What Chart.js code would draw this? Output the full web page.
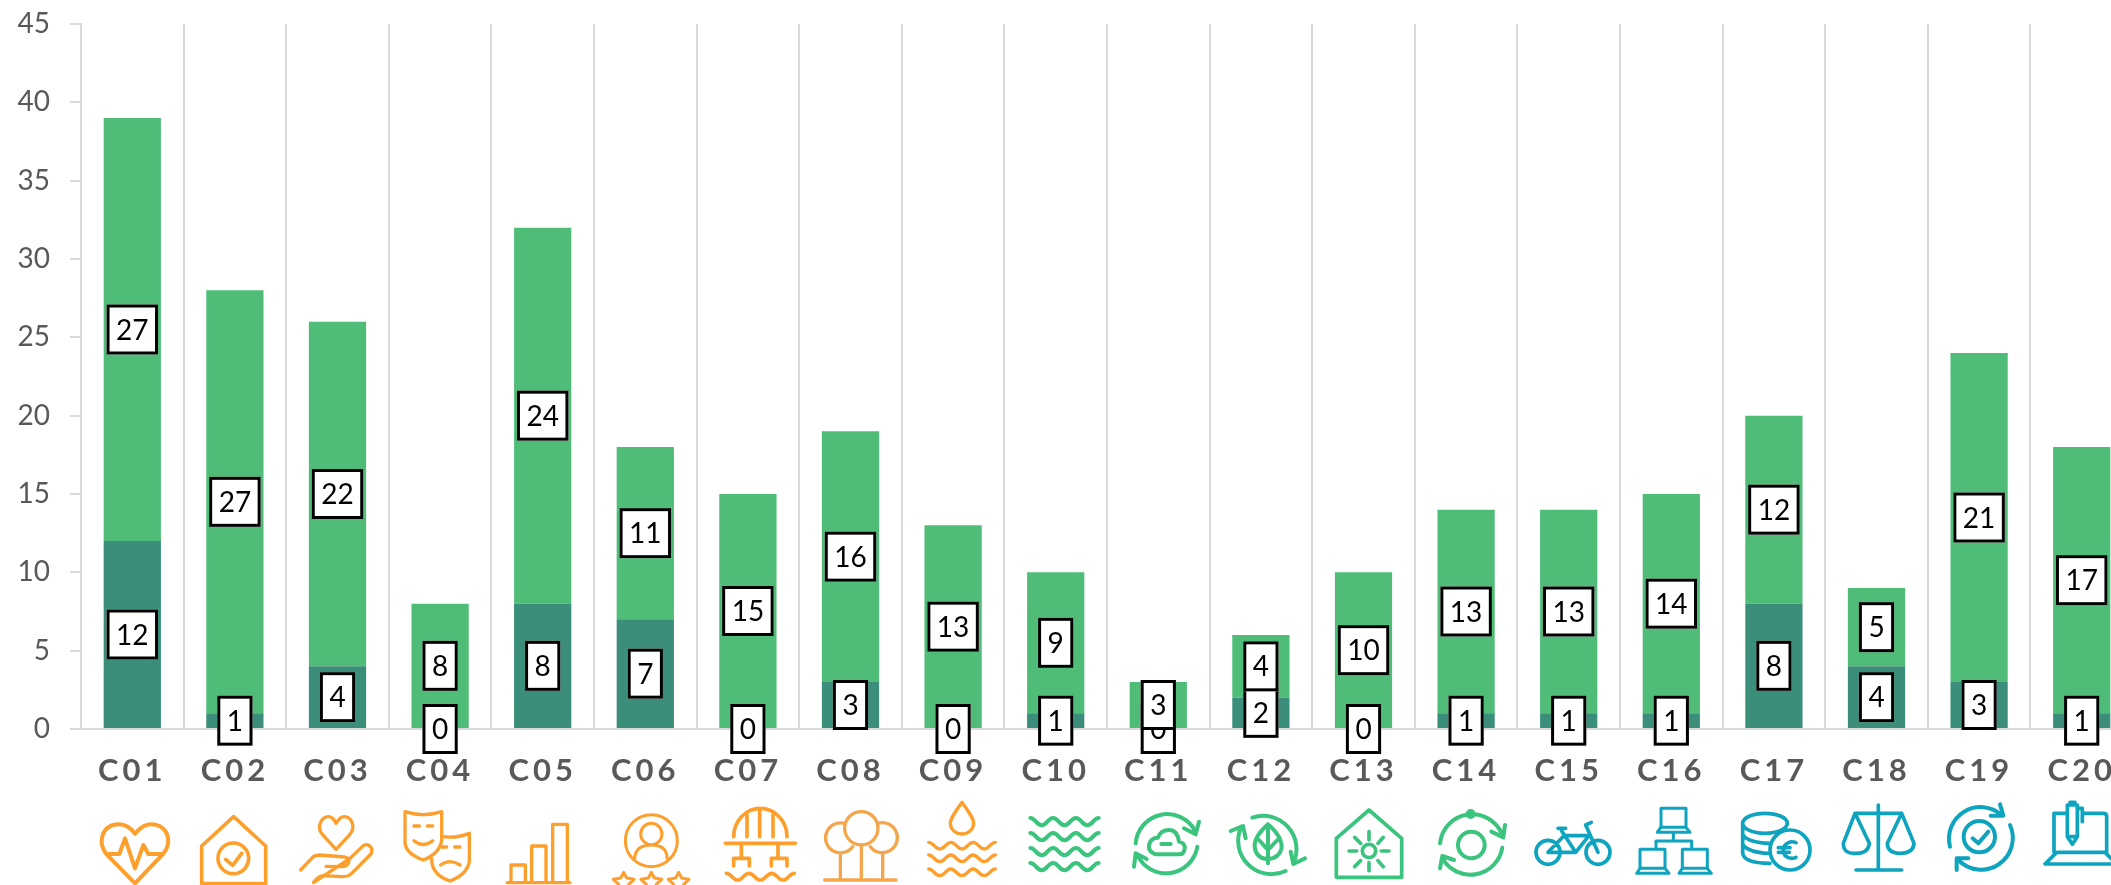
<!DOCTYPE html>
<html><head><meta charset="utf-8">
<style>html,body{margin:0;padding:0;background:#fff;overflow:hidden;width:2111px;height:885px}canvas{display:block}</style>
<script src="https://cdn.jsdelivr.net/npm/chart.js@4/dist/chart.umd.js"></script>
</head><body><canvas id="c" width="2134" height="885"></canvas>
<script>
const categories=['C01','C02','C03','C04','C05','C06','C07','C08','C09','C10','C11','C12','C13','C14','C15','C16','C17','C18','C19','C20'];
const darkValues=[12,1,4,0,8,7,0,3,0,1,0,2,0,1,1,1,8,4,3,1];
const lightValues=[27,27,22,8,24,11,15,16,13,9,3,4,10,13,13,14,12,5,21,17];
const yTicks=[0,5,10,15,20,25,30,35,40,45];

const ORANGE='#FD9F2C',TREE='#F3A64C',GREEN='#3AC47D',TEAL='#0EA3BE';
function wave(x0,y,x1,periods,a){
  const p=(x1-x0)/periods;let s=`M${x0} ${y-a}`;
  for(let i=0;i<periods;i++){const x=x0+i*p;
    s+=` C${x+p*.22} ${y-a} ${x+p*.28} ${y+a} ${x+p*.5} ${y+a} C${x+p*.72} ${y+a} ${x+p*.78} ${y-a} ${x+p} ${y-a}`;}
  return s;
}
function circ(x,y,r){return `M${x-r} ${y} A${r} ${r} 0 1 0 ${x+r} ${y} A${r} ${r} 0 1 0 ${x-r} ${y} Z`;}
function star(c,y){return `M${c} ${y} L${c+9} ${y+17} L${c+31} ${y+21} L${c+15} ${y+36} L${c+19} ${y+58} L${c} ${y+48} L${c-19} ${y+58} L${c-15} ${y+36} L${c-31} ${y+21} L${c-9} ${y+17} Z`;}
/* decorative pictograms under the axis, drawn in 3x units relative to a crop origin */
const icons=[
 {o:90,c:ORANGE,w:12,d:'M135 265 L50 178 C22 148 32 88 88 88 C110 88 125 103 135 116 C146 103 160 88 182 88 C238 88 248 148 218 178 Z M55 177 L88 177 L105 130 L135 220 L160 150 L175 177 L215 177'},
 {o:90,c:ORANGE,w:11,d:'M335 266 L335 153 L431 65 L527 153 L527 266 Z '+circ(430,190,46)+' M407 193 L428 211 L455 175'},
 {o:90,c:ORANGE,w:10,d:'M738 163 L697 118 C678 95 695 65 716 65 C728 65 733 75 738 85 C745 75 750 65 762 65 C785 65 798 95 780 118 Z M632 225 L668 187 Q675 180 690 180 L765 186 Q782 190 775 205 Q770 215 755 215 L708 214 M778 192 L820 152 Q835 143 845 160 Q848 172 840 180 L785 235 Q775 245 755 245 L700 242 Q685 242 670 263 Z'},
 {o:90,c:ORANGE,w:10,d:'M945 50 Q1000 68 1055 50 L1055 135 Q1050 175 1000 195 Q945 175 945 140 Z M972 93 L988 93 M1012 93 L1028 93 M972 137 Q1000 160 1028 137 M1058 125 Q1100 130 1138 115 L1138 200 Q1130 240 1080 258 Q1025 240 1025 192 M1055 156 L1070 156 M1094 156 L1110 156 M1052 210 Q1080 190 1110 210'},
 {o:90,c:ORANGE,w:10,d:'M1252 263 L1440 263 M1263 263 L1263 210 L1306 210 L1306 263 M1325 263 L1325 153 L1368 153 L1368 263 M1388 263 L1388 88 L1432 88 L1432 263'},
 {o:612,c:ORANGE,w:9,d:circ(118,137,78)+' '+circ(118,117,32)+' M68 190 Q70 150 118 150 Q165 150 165 190 '+star(35,232)+' '+star(118,232)+' '+star(200,232)},
 {o:612,c:ORANGE,w:11,d:'M365 125 A80 85 0 0 1 525 125 M405 60 L405 125 M443 45 L443 125 M483 60 L483 125 M340 145 L550 145 M388 145 L388 187 M498 145 L498 187 M365 213 L365 190 L412 190 L412 213 M478 213 L478 190 L525 190 L525 213 '+wave(343,245,547,3,10)},
 {o:612,c:TREE,w:10,d:circ(748,100,50)+' M697 85 A45 45 0 1 0 722 155 M798 85 A45 45 0 1 1 775 155 M685 175 L685 255 M748 150 L748 255 M812 175 L812 255 M638 255 L852 255'},
 {o:612,c:ORANGE,w:10,d:'M1050 22 C1030 50 1015 70 1015 85 A35 32 0 0 0 1085 85 C1085 70 1070 50 1050 22 Z '+wave(950,152,1150,3,10)+' '+wave(950,190,1150,3,10)+' '+wave(950,232,1150,3,10)},
 {o:612,c:GREEN,w:12,d:wave(1255,80,1460,3,11)+' '+wave(1255,125,1460,3,11)+' '+wave(1255,170,1460,3,11)+' '+wave(1255,215,1460,3,11)},
 {o:1134,c:GREEN,w:12,d:'M5 145 A95 95 0 0 1 182 105 M150 100 L185 118 L195 80 M190 155 A95 95 0 0 1 10 180 M38 192 L5 175 L0 215 M65 178 Q42 170 45 150 Q50 128 72 128 Q80 105 105 105 Q130 105 135 140 Q155 145 152 162 Q150 178 135 178 Z M82 147 L110 147'},
 {o:1134,c:GREEN,w:12,d:'M355 68 A100 100 0 0 1 478 205 M470 170 L478 207 L513 190 M455 228 A100 100 0 0 1 322 95 M290 108 L327 93 L335 130 M402 88 Q445 125 443 160 Q435 190 402 193 Q365 190 362 155 Q360 125 402 88 Z M402 88 L402 205 M375 135 L402 165 L430 135'},
 {o:1134,c:GREEN,w:11,d:'M607 247 L607 130 L705 45 L803 130 L803 247 Z '+circ(705,168,20)+' M705 110 L705 135 M705 203 L705 227 M645 168 L668 168 M742 168 L765 168 M662 127 L680 145 M748 127 L732 145 M662 215 L680 197 M748 215 L732 197'},
 {o:1134,c:GREEN,w:12,d:'M918 145 A97 97 0 0 1 1105 120 M1072 110 L1108 127 L1113 90 M1105 158 A97 97 0 0 1 925 190 M960 195 L925 183 L918 220 '+circ(1012,150,40)+' '+circ(1010,57,9)},
 {o:1134,c:TEAL,w:11,d:circ(1242,172,36)+' '+circ(1392,172,36)+' M1242 172 L1325 172 L1365 122 L1290 122 L1242 172 M1283 108 L1325 172 M1272 100 L1295 100 M1392 172 L1355 90 L1372 82'},
 {o:1600,c:TEAL,w:9,d:'M183 97 L183 40 L258 40 L258 97 M172 112 L182 97 L258 97 L270 112 Z M220 112 L220 138 M168 160 L168 138 L275 138 L275 160 M120 220 L120 163 L195 163 L195 220 M110 235 L120 220 L195 220 L207 235 Z M247 220 L247 163 L322 163 L322 220 M237 235 L247 220 L322 220 L334 235 Z'},
 {o:1600,c:TEAL,w:11,d:'M428 85 A67 30 0 1 1 562 85 A67 30 0 1 1 428 85 Z M428 85 L428 175 Q432 205 510 205 M428 118 Q440 142 510 145 M428 148 Q445 172 505 175 '+circ(570,165,60)+' M588 143 Q570 135 555 150 Q545 165 555 182 Q570 195 588 187 M535 158 L570 158 M535 172 L568 172'},
 {o:1600,c:TEAL,w:11,d:'M835 30 L835 225 M768 225 L905 225 M765 55 L905 55 M765 55 L730 145 Q730 178 768 175 Q805 175 808 145 L765 55 M905 55 L862 145 Q862 175 900 175 Q940 175 942 145 L905 55'},
 {o:1600,c:TEAL,w:12,d:'M1050 155 A95 95 0 0 1 1205 60 M1200 28 L1210 62 L1172 62 M1230 90 A95 95 0 0 1 1075 195 M1070 225 L1070 190 L1105 190 '+circ(1138,125,47)+' M1118 130 L1135 145 L1165 110'},
 {o:1600,c:TEAL,w:11,d:'M1398 55 L1362 55 L1362 172 M1450 55 L1510 55 Q1520 55 1520 65 L1520 172 M1335 207 L1370 172 L1515 172 L1550 207 Z M1402 30 L1432 30 L1432 125 L1417 148 L1402 125 Z M1402 125 L1432 125 M1410 22 L1425 22 M1435 40 L1447 40 L1447 80'}
];

const boxLabels={id:'boxLabels',afterDatasetsDraw(chart){
  const ctx=chart.ctx;ctx.save();
  ctx.font='28px Lato';ctx.textAlign='center';ctx.textBaseline='middle';
  chart.data.datasets.forEach((ds,di)=>{
    chart.getDatasetMeta(di).data.forEach((bar,i)=>{
      const p=bar.getProps(['x','y','base'],true);
      const cy=(p.y+p.base)/2,t=String(ds.data[i]);
      const w=ctx.measureText(t).width+19,h=50;
      ctx.fillStyle='#fff';ctx.fillRect(p.x-w/2,cy-h/2,w,h);
      ctx.strokeStyle='#000';ctx.lineWidth=3;ctx.strokeRect(p.x-w/2+1.5,cy-h/2+1.5,w-3,h-3);
      ctx.fillStyle='#000';ctx.fillText(t,p.x,cy+1);
    });
  });
  ctx.restore();
}};
const iconPlugin={id:'iconPlugin',afterDraw(chart){
  const ctx=chart.ctx;
  icons.forEach(ic=>{
    ctx.save();ctx.translate(ic.o,795);ctx.scale(1/3,1/3);
    ctx.strokeStyle=ic.c;ctx.lineWidth=ic.w;ctx.lineCap='round';ctx.lineJoin='round';
    ctx.stroke(new Path2D(ic.d));
    ctx.restore();
  });
}};
const spacedLabels={id:'spacedLabels',beforeDraw(chart){
  const s=chart.scales.x;
  if(!s._spaced){const f=s.drawLabels;s.drawLabels=function(a){chart.ctx.save();chart.ctx.letterSpacing='4px';f.call(s,a);chart.ctx.restore();};s._spaced=true;}
}};

new Chart(document.getElementById('c'),{
  type:'bar',
  data:{labels:categories,datasets:[
    {data:darkValues,backgroundColor:'#3A8E7A',stack:'s'},
    {data:lightValues,backgroundColor:'#4FBC78',stack:'s'}
  ]},
  plugins:[spacedLabels,boxLabels,iconPlugin],
  options:{
    responsive:false,animation:false,
    layout:{autoPadding:false,padding:{top:24,right:1,left:0,bottom:0}},
    plugins:{legend:{display:false},tooltip:{enabled:false}},
    datasets:{bar:{barPercentage:.558,categoryPercentage:1}},
    scales:{
      x:{stacked:true,
        afterFit(s){s.height=156;s.paddingLeft=0;s.paddingRight=0;},
        grid:{color:'#D9D9D9',lineWidth:2,drawTicks:false},
        border:{color:'#D9D9D9',width:2},
        ticks:{color:'#595959',font:{family:'Lato',size:31,weight:'bold'},padding:23,maxRotation:0,autoSkip:false}},
      y:{stacked:true,min:0,max:45,
        afterFit(s){s.width=81;s.paddingTop=0;s.paddingBottom=0;},
        afterBuildTicks(s){s.ticks=yTicks.map(v=>({value:v}));},
        grid:{drawOnChartArea:false,color:'#D9D9D9',lineWidth:2,tickLength:11},
        border:{color:'#D9D9D9',width:2},
        ticks:{color:'#595959',font:{family:'Lato',size:28},padding:20}}
    }
  }
});
</script></body></html>
